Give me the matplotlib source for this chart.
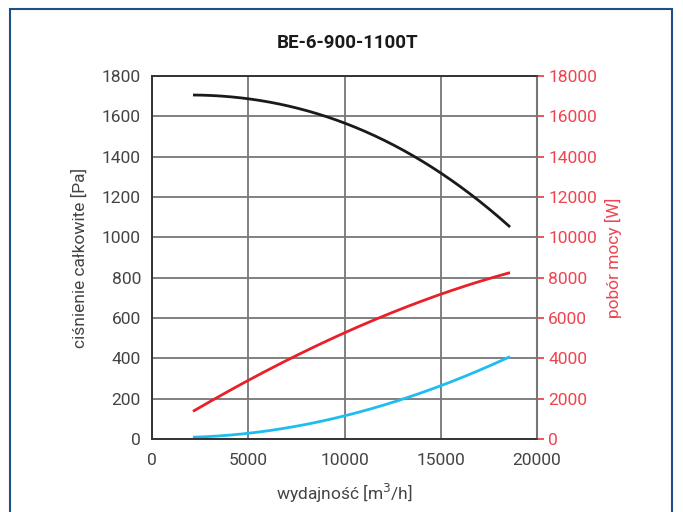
import matplotlib
matplotlib.use("Agg")
import matplotlib.pyplot as plt
from matplotlib.patches import Rectangle
import numpy as np

flow = [2130, 5000, 7500, 10000, 12500, 15000, 17500, 18600]
pressure = [1706, 1686, 1641, 1572, 1458, 1309, 1160, 1041]
power = [1388, 2876, 4116, 5306, 6298, 7190, 7835, 8330]
dyn_pressure = [8, 30, 64, 114, 178, 268, 362, 407]

title = "BE-6-900-1100T"
xlabel = "wydajność [m$^3$/h]"
ylabel_left = "ciśnienie całkowite [Pa]"
ylabel_right = "pobór mocy [W]"

FONT = ["Roboto", "DejaVu Sans"]
plt.rcParams["font.family"] = FONT

def smooth(x, y, n=200):
    x = np.asarray(x, float); y = np.asarray(y, float)
    c = np.polyfit(x, y, 3)
    xs = np.linspace(x[0], x[-1], n)
    return xs, np.polyval(c, xs)

fig = plt.figure(figsize=(6.83, 5.12), dpi=100)
W, H = 683, 512
ax = fig.add_axes([152 / W, 1 - 439 / H, (537 - 152) / W, (439 - 76) / H])
ax2 = ax.twinx()

gray = "#767676"
tickc = "#444444"
red = "#e8202a"
redtxt = "#ee4450"

ax.set_xlim(0, 20000)
ax.set_ylim(0, 1800)
ax2.set_ylim(0, 18000)
ax.set_xticks(np.arange(0, 20001, 5000))
ax.set_yticks(np.arange(0, 1801, 200))
ax2.set_yticks(np.arange(0, 18001, 2000))
ax.grid(True, color=gray, linewidth=1.3)
ax.set_axisbelow(True)

xs, ys = smooth(flow, pressure)
ax.plot(xs, ys, color="#1a1a1a", linewidth=2.0, solid_capstyle="butt")
xs, ys = smooth(flow, dyn_pressure)
ax.plot(xs, ys, color="#1ebdf0", linewidth=2.0, solid_capstyle="butt")
xs, ys = smooth(flow, power)
ax2.plot(xs, ys, color=red, linewidth=2.0, solid_capstyle="butt")

for a in (ax, ax2):
    for s in a.spines.values():
        s.set_color("#333333")
        s.set_linewidth(1.2)
ax2.spines["right"].set_color(gray)
ax2.spines["right"].set_linewidth(1.5)

ax.tick_params(axis="both", length=0, labelsize=12.5, colors=tickc, pad=8)
ax.tick_params(axis="x", pad=10)
ax2.tick_params(axis="y", length=5, width=1.3, color=redtxt, labelcolor=redtxt,
                labelsize=12.5, pad=3)

ax.set_xlabel(xlabel, fontsize=12.5, color=tickc, labelpad=10)
ax.set_ylabel(ylabel_left, fontsize=12.5, color=tickc, labelpad=10)
ax2.set_ylabel(ylabel_right, fontsize=12.5, color=redtxt, labelpad=6)
fig.text(348 / W, 1 - 43 / H, title, ha="center", va="center", fontsize=13.5,
         fontweight="bold", color="#1a1a1a")

fig.patches.append(Rectangle((9.5 / W, -0.05), (672 - 9.5) / W, 1.05 - 8.5 / H,
                             transform=fig.transFigure, fill=False,
                             edgecolor="#1f4f8a", linewidth=1.5))

fig.savefig("out.png", dpi=100)
